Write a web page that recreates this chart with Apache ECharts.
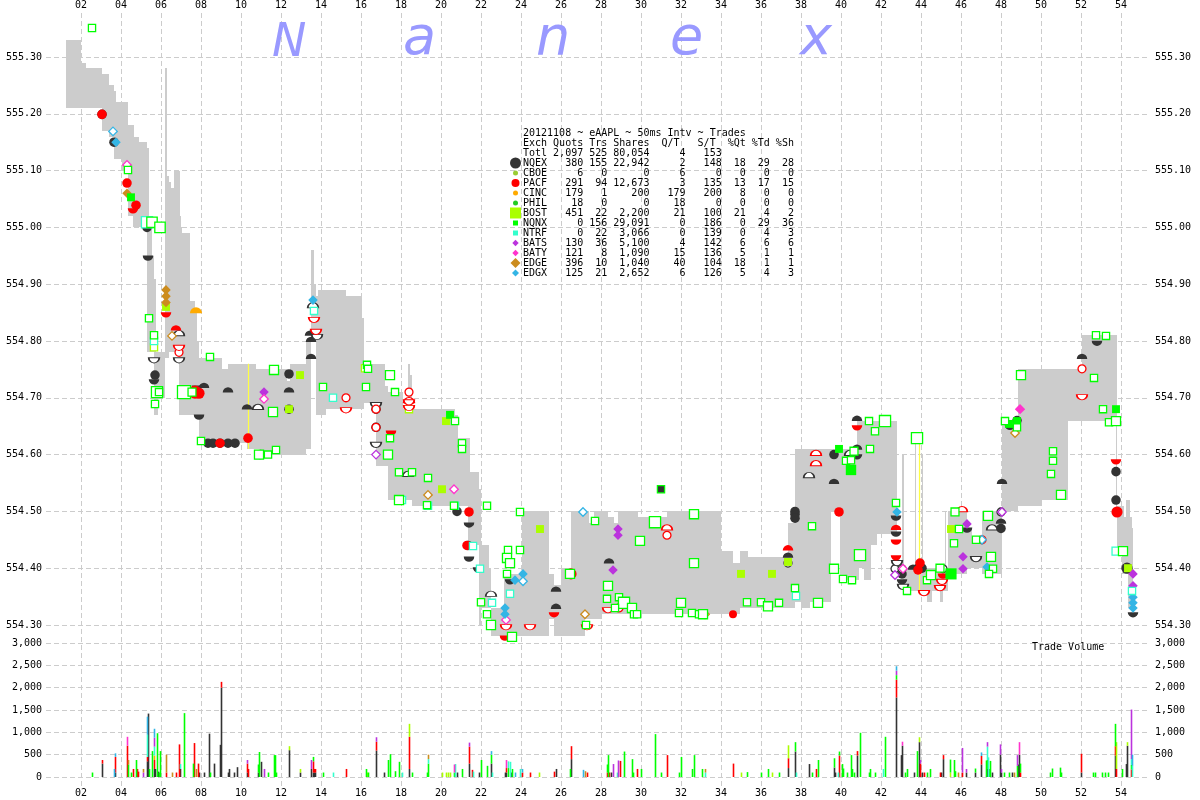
<!DOCTYPE html>
<html><head><meta charset="utf-8">
<style>html,body{margin:0;padding:0;background:#fff}#c{width:1200px;height:800px}</style>
<script src="https://cdn.jsdelivr.net/npm/echarts@6/dist/echarts.min.js"></script>
</head><body><div id="c"></div>
<script>
// [start second, end second, low price, high price]
const quoteBand = [
[1.25,2,555.21,555.33],[2,2.25,555.21,555.29],[2.25,3.05,555.21,555.28],[3.05,3.4,555.17,555.27],[3.4,3.65,555.16,555.25],[3.65,3.75,555.12,555.24],
[3.75,4.05,555.12,555.22],[4.05,4.35,555.10,555.22],[4.35,4.6,555.02,555.18],[4.6,4.65,555.00,555.18],[4.65,4.9,555.00,555.16],[4.9,5.3,555.00,555.15],
[5.3,5.4,554.78,555.14],[5.4,5.55,554.78,555.00],[5.55,5.65,554.78,554.95],[5.65,5.75,554.67,554.91],[5.75,5.85,554.67,554.78],[5.85,6.2,554.70,554.78],
[6.2,6.3,554.77,555.28],[6.3,6.4,554.77,555.09],[6.4,6.5,554.78,555.08],[6.5,6.65,554.78,555.07],[6.65,6.9,554.78,555.10],[6.9,6.95,554.67,555.10],
[6.95,7,554.67,555.02],[7,7.05,554.67,555.00],[7.05,7.45,554.67,554.99],[7.45,7.7,554.67,554.87],[7.7,7.8,554.67,554.85],[7.8,7.9,554.67,554.80],
[7.9,9.05,554.62,554.77],[9.05,9.35,554.62,554.75],[9.35,10.3,554.62,554.76],[10.3,10.75,554.61,554.76],[10.75,10.95,554.61,554.75],[10.95,12.3,554.60,554.75],
[12.3,12.45,554.60,554.73],[12.45,13.25,554.60,554.76],[13.25,13.5,554.61,554.80],[13.5,13.65,554.80,554.96],[13.65,13.75,554.80,554.90],[13.75,13.85,554.67,554.88],
[13.85,14.25,554.67,554.89],[14.25,15.25,554.68,554.89],[15.25,16.05,554.68,554.88],[16.05,16.15,554.68,554.84],[16.15,16.75,554.69,554.76],[16.75,17.2,554.58,554.76],
[17.2,17.35,554.58,554.72],[17.35,18.1,554.52,554.71],[18.1,18.35,554.52,554.68],[18.35,18.45,554.52,554.76],[18.45,18.55,554.52,554.74],[18.55,20.7,554.51,554.68],
[20.7,20.85,554.51,554.67],[20.85,21.35,554.51,554.63],[21.35,21.45,554.44,554.63],[21.45,21.9,554.44,554.57],[21.9,22,554.30,554.54],[22,22.4,554.33,554.44],
[22.4,22.5,554.33,554.40],[22.5,23.15,554.28,554.33],[23.15,24.05,554.28,554.39],[24.05,25.4,554.28,554.50],[25.4,25.65,554.31,554.39],[25.65,26,554.28,554.37],
[26,26.5,554.28,554.40],[26.5,27.2,554.28,554.50],[27.2,27.4,554.31,554.50],[27.4,27.65,554.31,554.48],[27.65,28.05,554.31,554.50],[28.05,28.35,554.32,554.50],
[28.35,28.65,554.32,554.49],[28.65,28.85,554.32,554.48],[28.85,29.85,554.32,554.50],[29.85,31.3,554.32,554.49],[31.3,34,554.32,554.50],[34,34.6,554.32,554.43],
[34.6,34.95,554.32,554.41],[34.95,35.35,554.33,554.43],[35.35,37.35,554.33,554.42],[37.35,37.7,554.33,554.48],[37.7,38,554.34,554.61],[38,38.45,554.33,554.61],
[38.45,39.5,554.34,554.61],[39.5,39.95,554.50,554.61],[39.95,40.8,554.38,554.61],[40.8,40.9,554.38,554.66],[40.9,41.15,554.40,554.66],[41.15,41.5,554.38,554.66],
[41.5,41.8,554.44,554.66],[41.8,42.8,554.46,554.66],[43.05,43.15,554.40,554.60],[43.7,43.75,554.40,554.62],[44.05,44.1,554.40,554.60],
[43.1,44.3,554.36,554.40],[44.3,44.55,554.34,554.40],[44.55,44.95,554.36,554.40],[44.95,45.1,554.34,554.40],[45.1,45.35,554.36,554.40],[45.2,45.25,554.39,554.50],
[45.35,46.3,554.39,554.50],[46.3,46.55,554.40,554.47],[46.55,47.05,554.40,554.45],[47.05,48.05,554.39,554.50],[48.05,48.85,554.50,554.66],[48.85,50.05,554.51,554.75],
[50.05,51.35,554.52,554.75],[51.35,52.05,554.66,554.75],[52.05,53.75,554.66,554.81],[53.75,53.8,554.50,554.81],[53.8,54.05,554.43,554.51],[54.05,54.15,554.39,554.51],
[54.15,54.25,554.39,554.49],[54.25,54.35,554.39,554.52],[54.35,54.45,554.33,554.52],[54.45,54.55,554.33,554.49],[54.55,54.6,554.33,554.47]];
// [second, low price, high price]
const yellowPrints = [[10.35,554.61,554.76],[43.9,554.36,554.62]];

// Marks: [second, price, shares]; shares omitted uses the series default
const NQEX_full=[[3.05,555.199],[3.65,555.15],[5.3,555.00],[5.7,554.74],[12.4,554.742],[12.4,554.68],[10.95,554.60],[8.35,554.62],[8.6,554.62],[8.95,554.62],[9.35,554.62],[9.7,554.62],[16.75,554.68],[16.75,554.648],[20.8,554.50],[21.35,554.44],[26.5,554.39],[37.7,554.50],[37.7,554.495],[37.7,554.488],[39.65,554.60],[43.85,554.40],[44.05,554.40],[43.05,554.39],[48,554.47],[48.8,554.66],[53.75,554.57],[53.75,554.52],[54.3,554.40,500]];
const NQEX_dome=[[8.15,554.722],[9.35,554.714],[10.3,554.684],[12.4,554.714],[13.5,554.773],[13.5,554.803],[13.45,554.814],[28.4,554.413],[25.75,554.363],[25.75,554.333],[40.8,554.664],[40.8,554.613],[39.65,554.553],[37.35,554.423],[48.05,554.553],[48,554.483],[52.05,554.773],[43.6,554.402]];
const NQEX_bowl=[[5.35,554.946],[5.65,554.728],[7.9,554.666],[7.8,554.717],[21.4,554.476],[21.4,554.416],[23.45,554.376],[21.85,554.397],[40.8,554.596],[42.75,554.488],[42.75,554.46],[43.05,554.376],[46.3,554.467],[52.8,554.796],[54.6,554.318],[48.45,554.648]];
const NQEX_openDome=[[10.85,554.684],[6.9,554.814],[13.6,554.863],[22.5,554.355],[38.4,554.564],[47.55,554.472],[18.35,554.566],[40.45,554.603]];
const NQEX_openBowl=[[5.65,554.766],[6.9,554.766],[13.8,554.807],[16.75,554.687],[16.75,554.617],[46.75,554.416],[43.1,554.367],[42.8,554.409]];
const NQEX_ring=[[37.35,554.409],[42.7,554.399],[43.05,554.399],[45.1,554.399],[48,554.499]];
const PACF_full=[[3.05,555.199],[4.3,555.078],[4.75,555.039],[7.7,554.71,800],[7.9,554.708,500],[8.95,554.62],[10.35,554.629],[21.4,554.499],[21.3,554.44],[26.5,554.39,500],[39.9,554.499],[34.6,554.319,150],[43.95,554.409],[43.85,554.397],[53.75,554.659,150],[53.8,554.499,500]];
const PACF_bowl=[[6.25,554.846],[17.5,554.638],[4.6,555.029],[25.65,554.318],[23.2,554.277],[40.8,554.647],[42.75,554.446],[42.75,554.418],[45.1,554.386],[53.75,554.587]];
const PACF_dome=[[6.75,554.823],[37.35,554.436],[42.75,554.472]];
const PACF_ring=[[6.9,554.78],[15.25,554.70,150],[18.4,554.71],[16.75,554.68],[16.75,554.648],[31.3,554.458],[28.9,554.33],[52.05,554.751],[47.05,554.45]];
const PACF_openDome=[[31.3,554.472],[38.75,554.603],[38.75,554.585],[46.05,554.504],[18.4,554.696]];
const PACF_openBowl=[[6.9,554.788],[13.65,554.837],[13.75,554.816],[15.25,554.678],[18.4,554.692],[18.4,554.682],[23.25,554.296],[24.45,554.296],[27.3,554.296],[28.35,554.326],[44.15,554.356],[45.05,554.376],[44.95,554.365],[52.05,554.701]];
const CINC_dome=[[7.75,554.854]];
const BOST_filled=[[20.25,554.659],[20.05,554.539],[24.95,554.469],[35,554.39],[36.55,554.39],[45.5,554.469],[6.25,554.86],[12.95,554.74],[54.35,554.40],[12.4,554.68],[37.35,554.411]];
const BOST_open=[[5.65,554.789],[16.2,554.752],[18.4,554.68]];
const NQNX_filled=[[20.45,554.67],[39.9,554.61],[40.5,554.573,400],[45.5,554.39,500],[53.75,554.68],[48.8,554.659],[48.4,554.654],[4.5,555.053]];
const NQNX_dark=[[31,554.539]];
const NTRF_open=[[5.3,555.009,500],[5.65,554.80],[14.6,554.70],[13.65,554.853],[18.05,554.52],[19.35,554.51],[20.7,554.51],[21.6,554.439],[21.95,554.399],[22.55,554.339],[23.45,554.355],[37.75,554.351],[53.75,554.43,150],[54.55,554.36]];
const NQNX_open=[[2.55,555.351],[4.35,555.101],[5.55,555.009,400],[5.95,555.00,400],[5.4,554.84],[5.65,554.81],[5.8,554.71,500],[5.9,554.71],[5.7,554.689],[7.15,554.71,800],[7.55,554.71,150],[8,554.624],[8.45,554.772],[11.65,554.749,250],[11.6,554.675,250],[10.9,554.60,250],[11.35,554.60],[11.75,554.608],[14.1,554.719],[16.25,554.719],[16.3,554.758],[16.35,554.751],[17.45,554.74,250],[17.7,554.71],[17.45,554.629],[17.35,554.60,250],[17.9,554.569],[18.55,554.569],[20.7,554.659],[21.05,554.62],[21.05,554.61],[19.35,554.559],[17.9,554.52,250],[19.3,554.511],[20.65,554.51],[22.3,554.51],[23.95,554.499],[23.35,554.432],[23.95,554.432],[23.3,554.418,250],[23.45,554.409,250],[23.3,554.39],[22,554.34],[22.3,554.319],[22.5,554.30,250],[23.55,554.279,250],[26.45,554.39,250],[27.7,554.483],[29.95,554.448,250],[30.7,554.481,500],[32.65,554.495,250],[32.65,554.409,250],[28.35,554.369,250],[28.3,554.346],[28.9,554.349],[29.15,554.339,500],[29.55,554.33,250],[29.65,554.319],[29.8,554.319],[32,554.339,250],[31.9,554.321],[32.55,554.321],[32.9,554.319],[27.25,554.30],[28.7,554.33],[33.1,554.319,250],[35.3,554.34],[36,554.34],[36.35,554.333,250],[36.9,554.339],[37.7,554.365],[38.85,554.339,250],[38.55,554.474],[39.65,554.399,250],[40.1,554.381],[40.55,554.379],[40.95,554.423,500],[41.4,554.659],[42.2,554.659,500],[41.7,554.641],[41.45,554.61],[40.65,554.606,150],[40.25,554.589],[40.5,554.59],[42.75,554.515],[43.8,554.629,500],[43.3,554.36],[44.3,554.379],[44.5,554.388,250],[44.95,554.40,150],[45.65,554.444],[45.7,554.499,150],[45.9,554.469],[47.35,554.492,250],[46.75,554.45],[47.5,554.42,250],[47.6,554.399],[47.4,554.39],[48.2,554.659],[49,554.74,250],[48.8,554.648],[50.6,554.606],[50.6,554.589],[50.5,554.566],[51,554.529,250],[52.65,554.735],[52.75,554.81],[53.25,554.809],[53.1,554.68],[53.4,554.657],[53.75,554.659,250],[54.1,554.43,250]];
const BATS_full=[[11.15,554.71],[28.85,554.469],[28.85,554.458],[28.6,554.397],[46.3,554.478],[46.1,554.42],[46.1,554.399],[54.6,554.39],[54.6,554.369]];
const BATS_open=[[16.75,554.60],[42.7,554.388],[48.05,554.499]];
const BATY_full=[[48.95,554.68]];
const BATY_open=[[11.15,554.698],[20.65,554.539],[23.25,554.309],[43.1,554.399],[4.3,555.11]];
const EDGE_full=[[6.25,554.89],[6.25,554.879],[6.25,554.868],[4.3,555.06]];
const EDGE_open=[[6.55,554.809],[19.35,554.529],[27.2,554.319],[33.2,554.319],[48.7,554.638]];
const EDGX_full=[[3.75,555.15],[24.1,554.39],[23.7,554.379],[23.2,554.33],[23.2,554.319],[42.8,554.499],[47.3,554.402],[54.6,554.349],[54.6,554.339],[54.6,554.33],[13.6,554.872]];
const EDGX_open=[[3.6,555.169],[27.1,554.499],[24.1,554.377],[22.5,554.30],[47.05,554.45]];

// Trade volume: [second, shares]
const volNQEX=[[3.05,300],[3.7,100],[5.3,350],[5.35,1420],[5.65,180],[5.7,180],[5.85,120],[6.95,180],[7.9,100],[8.15,100],[8.4,970],[8.65,300],[8.95,720],[9,2000],[9.35,100],[9.4,180],[9.65,100],[9.8,220],[10.3,100],[10.85,100],[11,340],[12.4,600],[12.95,100],[13.5,180],[13.6,100],[13.65,100],[13.7,100],[16.75,590],[17.15,100],[18.4,180],[20.8,100],[21.4,300],[21.9,100],[22.5,300],[23.2,100],[23.25,100],[23.5,100],[25.75,180],[26.5,400],[28.5,100],[37.35,200],[37.7,570],[38.4,290],[39.65,210],[39.7,100],[40.8,480],[42.75,1780],[43,490],[43.05,700],[43.65,100],[43.9,780],[44.05,100],[45,100],[45.1,400],[46.25,100],[46.7,100],[47,280],[47.3,180],[47.55,100],[47.95,500],[48,100],[48.55,100],[48.85,280],[48.9,500],[52,100],[53.7,480],[54.25,290],[54.3,700]];
const volPACF=[[3.05,80],[3.7,350],[4.3,700],[4.6,180],[4.8,180],[4.85,120],[5.3,100],[5.65,200],[6.25,100],[6.75,100],[6.9,730],[7.65,760],[7.85,300],[9,130],[10.3,200],[10.35,180],[13.6,250],[13.65,80],[13.7,80],[15.25,180],[16.75,200],[18.4,720],[21.4,380],[21.55,160],[23.25,100],[24.05,100],[24.45,100],[25.65,120],[26.5,290],[27.3,100],[28.3,100],[28.4,100],[28.95,360],[29.8,180],[31.3,490],[34.6,300],[37.35,220],[38.75,180],[39.9,480],[40.8,100],[42.75,400],[43.95,300],[44.15,100],[44.95,100],[45.1,90],[46.05,100],[47,190],[48.95,100],[52,420],[53.7,210],[53.75,180],[54.5,170]];
const volCINC=[[5.65,100]];
const volBOST=[[12.4,90],[12.95,80],[16.3,100],[18.4,290],[20.05,100],[20.25,100],[20.35,100],[20.45,100],[24.9,100],[35,100],[36.55,100],[37.35,290],[43.9,110],[45.45,100],[53.75,600],[54.3,80]];
const volNQNX=[[2.55,100],[4.35,280],[4.5,100],[4.75,380],[5.4,180],[5.55,580],[5.8,980],[5.9,100],[5.95,580],[7.15,1430],[7.6,300],[8.45,100],[10.85,180],[10.9,560],[11.35,100],[11.65,490],[11.7,490],[11.75,100],[13.6,100],[14.1,100],[16.25,180],[16.35,100],[17.35,380],[17.45,510],[17.7,130],[17.9,340],[18.55,100],[19.3,100],[19.35,300],[20.65,100],[21.05,180],[22,380],[22.3,250],[22.5,200],[23.35,200],[23.55,180],[26.45,180],[28.3,180],[28.35,490],[29.15,570],[29.55,400],[29.6,100],[30,180],[30.7,960],[31,100],[31.9,100],[32,450],[32.55,180],[32.65,490],[33.05,180],[35.3,110],[36,100],[36.35,180],[36.9,100],[37.7,210],[38.55,100],[38.85,380],[39.65,210],[39.9,90],[40.05,290],[40.1,190],[40.3,100],[40.5,490],[40.55,180],[40.65,100],[40.95,990],[41.4,100],[41.45,180],[41.7,100],[42.2,900],[42.75,100],[43.2,100],[43.3,180],[43.8,580],[44.3,100],[44.45,180],[45.45,290],[45.65,380],[45.7,130],[46.7,90],[47.25,370],[47.3,200],[47.4,180],[47.45,360],[48.15,100],[48.4,100],[48.8,250],[48.95,200],[50.45,100],[50.55,190],[50.95,210],[51,100],[52.6,100],[52.7,100],[53.05,100],[53.2,100],[53.35,100],[53.7,500],[54.05,180],[54.5,100]];
const volNTRF=[[5.3,500],[5.65,200],[6.95,110],[14.6,100],[18.05,100],[19.35,100],[20.7,290],[21.6,120],[22.55,100],[23.35,150],[23.45,340],[23.95,180],[28.8,100],[33.2,100],[37.75,100],[39.85,100],[42.1,180],[47.3,300],[47.35,440],[54.5,130],[54.55,250]];
const volBATS=[[5.1,100],[5.65,200],[10.3,80],[11.15,180],[13.5,200],[16.75,100],[21.4,90],[28.6,290],[28.85,370],[42.75,100],[43.95,80],[46.05,550],[46.25,80],[47.3,100],[47.95,230],[48,80],[48.8,240],[54.5,1110]];
const volBATY=[[4.3,200],[20.65,180],[23.25,180],[43.05,90],[48.9,280]];
const volEDGE=[[4.35,100],[5.1,80],[6.25,400],[6.55,100],[7.75,180],[19.35,100],[27.2,130],[33.2,80],[45.85,100],[48.65,100]];
const volEDGX=[[3.65,180],[3.7,80],[5.3,400],[5.65,200],[22.5,80],[23.7,100],[24.05,80],[27.1,160],[42.75,100],[47,80],[54.55,250]];

const secondTicks = 2, priceStep = 0.1, volumeStep = 500;
const exchanges = ['NQEX','CBOE','PACF','CINC','PHIL','BOST','NQNX','NTRF','BATS','BATY','EDGE','EDGX'];
const quots = ['380','6','291','179','18','451','0','0','130','121','396','125'];
const trs = ['155','0','94','1','0','22','156','22','36','8','10','21'];
const shares = ['22,942','0','12,673','200','0','2,200','29,091','3,066','5,100','1,090','1,040','2,652'];
const qt = ['2','6','3','179','18','21','0','0','4','15','40','6'];
const st = ['148','0','135','200','0','100','186','139','142','136','104','126'];
const pctQt = ['18','0','13','8','0','21','0','0','6','5','18','5'];
const pctTd = ['29','0','17','0','0','4','29','4','6','1','1','4'];
const pctSh = ['28','0','15','0','0','2','36','3','6','1','1','3'];
const brand = ['N','a','n','e','x'];

const colors = {NQEX:'#333333',CBOE:'#99cc33',PACF:'#ff0000',CINC:'#ffaa00',PHIL:'#22cc22',BOST:'#aaff00',NQNX:'#00ff00',NTRF:'#33ffcc',BATS:'#bb33dd',BATY:'#ff33cc',EDGE:'#cc8c1e',EDGX:'#33b5e5'};
const MONO = '"DejaVu Sans Mono"';
const DOME = 'path://M0 50A50 50 0 0 1 100 50Z', BOWL = 'path://M0 0A50 50 0 0 0 100 0Z';
const sizeFor = s => 4 + 0.32 * Math.sqrt(s);

function marks(name, data, ex, shape, open, defShares, fillOverride){
  const half = shape === DOME || shape === BOWL;
  return {
    name, type:'scatter', xAxisIndex:1, yAxisIndex:1, data, symbol:shape, clip:false,
    encode:{x:0,y:1},
    symbolSize:v=>{const s=sizeFor(v[2]||defShares);return half?[s+1,(s+1)/2]:s;},
    itemStyle:{color:open?'#ffffff':(fillOverride||colors[ex]),borderColor:open||fillOverride?colors[ex]:undefined,borderWidth:open?1.3:(fillOverride?1.3:0),opacity:1},
    emphasis:{disabled:true},silent:true
  };
}

// volume bins: one bin per 50 ms
const binStart = 0.25, binCount = 1104;
const bins = Array.from({length:binCount},(_,i)=>(binStart+i*0.05).toFixed(2));
function volSeries(ex, rows){
  const arr = new Array(binCount).fill(null);
  rows.forEach(r=>{const i=Math.round((r[0]-binStart)*20-0.5); if(i>=0&&i<binCount) arr[i]=(arr[i]||0)+r[1];});
  return {name:'vol '+ex,type:'bar',stack:'vol',xAxisIndex:2,yAxisIndex:3,data:arr,barWidth:1.6,itemStyle:{color:colors[ex]},silent:true,emphasis:{disabled:true}};
}

const dash = {color:'#cccccc',width:1,type:[5,3]};
const labelFont = {fontFamily:MONO,fontSize:10,color:'#000'};
const secLabel = v => String(v).padStart(2,'0');

const series = [
 {name:'quotes',type:'custom',xAxisIndex:1,yAxisIndex:1,data:quoteBand,encode:{x:[0,1],y:[2,3]},silent:true,
  renderItem:(p,api)=>{const a=api.coord([api.value(0),api.value(3)]),b=api.coord([api.value(1),api.value(2)]);
   const x=Math.round(a[0]),y=Math.round(a[1]);return {type:'rect',shape:{x,y,width:Math.max(1,Math.round(b[0])-x),height:Math.round(b[1])-y},style:{fill:'#cccccc'}};}},
 {name:'prints',type:'custom',xAxisIndex:1,yAxisIndex:1,data:yellowPrints,encode:{x:0,y:[1,2]},silent:true,
  renderItem:(p,api)=>{const a=api.coord([api.value(0),api.value(2)]),b=api.coord([api.value(0),api.value(1)]);
   return {type:'line',shape:{x1:Math.round(a[0])+0.5,y1:a[1],x2:Math.round(a[0])+0.5,y2:b[1]},style:{stroke:'#ffff44',lineWidth:1.2}};}},
 marks('CINC dome',CINC_dome,'CINC',DOME,false,500),
 marks('NQEX full',NQEX_full,'NQEX','circle',false,300),
 marks('NQEX dome',NQEX_dome,'NQEX',DOME,false,300),
 marks('NQEX bowl',NQEX_bowl,'NQEX',BOWL,false,300),
 marks('NQEX ring',NQEX_ring,'NQEX','circle',true,150),
 marks('NQEX open dome',NQEX_openDome,'NQEX',DOME,true,300),
 marks('NQEX open bowl',NQEX_openBowl,'NQEX',BOWL,true,300),
 marks('BOST filled',BOST_filled,'BOST','rect',false,150),
 marks('BOST open',BOST_open,'BOST','rect',true,100),
 marks('PACF full',PACF_full,'PACF','circle',false,300),
 marks('PACF dome',PACF_dome,'PACF',DOME,false,300),
 marks('PACF bowl',PACF_bowl,'PACF',BOWL,false,300),
 marks('PACF ring',PACF_ring,'PACF','circle',true,150),
 marks('PACF open dome',PACF_openDome,'PACF',DOME,true,300),
 marks('PACF open bowl',PACF_openBowl,'PACF',BOWL,true,300),
 marks('BATS full',BATS_full,'BATS','diamond',false,300),
 marks('BATS open',BATS_open,'BATS','diamond',true,200),
 marks('BATY full',BATY_full,'BATY','diamond',false,400),
 marks('BATY open',BATY_open,'BATY','diamond',true,200),
 marks('EDGE full',EDGE_full,'EDGE','diamond',false,300),
 marks('EDGE open',EDGE_open,'EDGE','diamond',true,200),
 marks('EDGX full',EDGX_full,'EDGX','diamond',false,300),
 marks('EDGX open',EDGX_open,'EDGX','diamond',true,200),
 marks('NTRF open',NTRF_open,'NTRF','rect',true,100),
 marks('NQNX filled',NQNX_filled,'NQNX','rect',false,150),
 marks('NQNX dark',NQNX_dark,'NQNX','rect',false,100,'#333333'),
 marks('NQNX open',NQNX_open,'NQNX','rect',true,100),
 volSeries('NQEX',volNQEX),volSeries('PACF',volPACF),volSeries('CINC',volCINC),volSeries('BOST',volBOST),volSeries('NQNX',volNQNX),
 volSeries('NTRF',volNTRF),volSeries('BATS',volBATS),volSeries('BATY',volBATY),volSeries('EDGE',volEDGE),volSeries('EDGX',volEDGX)
];

// legend block text
const headerRows = ['20121108 ~ eAAPL ~ 50ms Intv ~ Trades','Exch Quots Trs Shares  Q/T   S/T  %Qt %Td %Sh','Totl 2,097 525 80,054     4   153'];
const tableRows = exchanges.map((e,i)=>e+' '+quots[i].padStart(5)+' '+trs[i].padStart(3)+' '+shares[i].padStart(6)+qt[i].padStart(6)+st[i].padStart(6)+pctQt[i].padStart(4)+pctTd[i].padStart(4)+pctSh[i].padStart(4));
const legendText = headerRows.concat(tableRows).join('\n');
const swatch = {NQEX:['circle',5.5],CBOE:['circle',2.5],PACF:['circle',4],CINC:['circle',2.5],PHIL:['circle',2.5],BOST:['rect',5.5],NQNX:['rect',2.5],NTRF:['rect',2.5],BATS:['diamond',3.2],BATY:['diamond',3.2],EDGE:['diamond',5],EDGX:['diamond',3.5]};
const graphics = [];
brand.forEach((ch,i)=>graphics.push({type:'text',left:[272,403,536,670,800][i],top:i===0?21:13,z:1,silent:true,style:{text:ch,font:(i===0?'italic 46px':'italic 54px')+' "DejaVu Sans"',fill:'#9999ff'}}));
graphics.push({type:'text',x:523,y:128,z:50,silent:true,style:{text:legendText,font:'10px '+MONO,lineHeight:10,fill:'#000'}});
graphics.push({type:'text',x:1032,y:642,z:50,silent:true,style:{text:'Trade Volume',font:'10px '+MONO,fill:'#000'}});
exchanges.forEach((e,i)=>{
  const [k,r]=swatch[e], cx=515.5, cy=163+i*10, fill=colors[e];
  if(k==='circle') graphics.push({type:'circle',z:50,silent:true,shape:{cx,cy,r},style:{fill}});
  else if(k==='rect') graphics.push({type:'rect',z:50,silent:true,shape:{x:cx-r,y:cy-r,width:2*r,height:2*r},style:{fill}});
  else graphics.push({type:'polygon',z:50,silent:true,shape:{points:[[cx,cy-r],[cx+r,cy],[cx,cy+r],[cx-r,cy]]},style:{fill}});
});

const option = {
 animation:false, backgroundColor:'#fff',
 grid:[
  {left:41,top:12,width:1120,height:774},
  {left:46,top:0.2,width:1104,height:681.6},
  {left:46,top:643,width:1104,height:134}
 ],
 xAxis:[
  {gridIndex:0,type:'value',position:'top',min:0,max:56,interval:secondTicks,axisLine:{show:false},axisTick:{show:false},
   axisLabel:{...labelFont,margin:3,formatter:secLabel,showMinLabel:false,showMaxLabel:false},
   splitLine:{show:true,lineStyle:dash,showMinLine:false,showMaxLine:false}},
  {gridIndex:1,type:'value',min:0.25,max:55.45,show:false},
  {gridIndex:2,type:'category',data:bins,show:false},
  {gridIndex:0,type:'value',position:'bottom',min:0,max:56,interval:secondTicks,axisLine:{show:false},axisTick:{show:false},
   axisLabel:{...labelFont,margin:2,formatter:secLabel,showMinLabel:false,showMaxLabel:false},splitLine:{show:false}}
 ],
 yAxis:[
  {gridIndex:0,type:'value',min:0,max:1,show:false},
  {gridIndex:1,type:'value',position:'left',min:554.2,max:555.4,interval:priceStep,axisLine:{show:false},axisTick:{show:false},
   axisLabel:{...labelFont,margin:4,formatter:v=>v.toFixed(2),showMinLabel:false,showMaxLabel:false},
   splitLine:{show:true,lineStyle:dash,showMinLine:false,showMaxLine:false}},
  {gridIndex:1,type:'value',position:'right',min:554.2,max:555.4,interval:priceStep,axisLine:{show:false},axisTick:{show:false},
   axisLabel:{...labelFont,margin:5,formatter:v=>v.toFixed(2),showMinLabel:false,showMaxLabel:false},splitLine:{show:false}},
  {gridIndex:2,type:'value',position:'left',min:0,max:3000,interval:volumeStep,axisLine:{show:false},axisTick:{show:false},
   axisLabel:{...labelFont,margin:4,formatter:v=>v.toLocaleString('en-US')},splitLine:{show:true,lineStyle:dash}},
  {gridIndex:2,type:'value',position:'right',min:0,max:3000,interval:volumeStep,axisLine:{show:false},axisTick:{show:false},
   axisLabel:{...labelFont,margin:5,formatter:v=>v.toLocaleString('en-US')},splitLine:{show:false}}
 ],
 series, graphic:graphics
};
echarts.init(document.getElementById('c'),null,{renderer:'canvas'}).setOption(option);
</script></body></html>
